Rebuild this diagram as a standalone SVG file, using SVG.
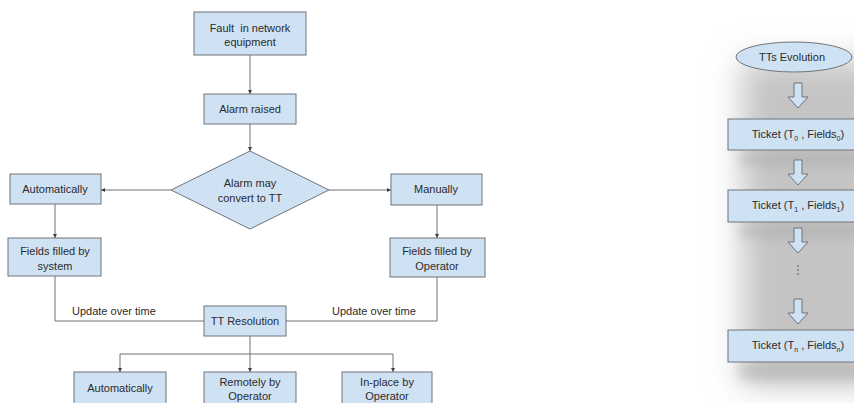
<svg xmlns="http://www.w3.org/2000/svg" width="854" height="403" viewBox="0 0 854 403">
  <style>
    .box { fill: #cfe2f3; stroke: #6f7478; stroke-width: 1; }
    .lbl { font-family: "Liberation Sans", Arial, sans-serif; font-size: 11px; fill: #2b2b2b; text-anchor: middle; }
    .note { font-family: "Liberation Sans", Arial, sans-serif; font-size: 11px; fill: #2b2b2b; }
    .wire { fill: none; stroke: #707070; stroke-width: 1; }
    .blk { fill: #cfe2f3; stroke: #6f7478; stroke-width: 1; }
  </style>
  <defs>
    <marker id="tip" viewBox="0 0 6 6" refX="6" refY="3" markerWidth="4" markerHeight="4" orient="auto">
      <path d="M0,0 L6,3 L0,6 z" fill="#404040"/>
    </marker>
    <filter id="soft" x="-40%" y="-30%" width="180%" height="160%">
      <feGaussianBlur stdDeviation="16"/>
    </filter>
    <filter id="soft2" x="-30%" y="-80%" width="160%" height="260%">
      <feGaussianBlur stdDeviation="6"/>
    </filter>
    <path id="down" d="M-4,0 H4 V14 H10 L0,25 L-10,14 H-4 Z"/>
  </defs>

  <rect width="854" height="403" fill="#ffffff"/>

  <!-- connectors -->
  <g id="connectors">
    <path class="wire" d="M250,55 V94" marker-end="url(#tip)"/>
    <path class="wire" d="M250,124 V151" marker-end="url(#tip)"/>
    <path class="wire" d="M171,190 H101" marker-end="url(#tip)"/>
    <path class="wire" d="M329,190 H391" marker-end="url(#tip)"/>
    <path class="wire" d="M55,204 V238" marker-end="url(#tip)"/>
    <path class="wire" d="M437,205 V238" marker-end="url(#tip)"/>
    <path class="wire" d="M55,276 V321 H204"/>
    <path class="wire" d="M437,277 V321 H286"/>
    <path class="wire" d="M250,336 V354"/>
    <path class="wire" d="M120,354 H393"/>
    <path class="wire" d="M120,354 V372" marker-end="url(#tip)"/>
    <path class="wire" d="M250,354 V372" marker-end="url(#tip)"/>
    <path class="wire" d="M393,354 V372" marker-end="url(#tip)"/>
    <text class="note" x="72" y="315">Update over time</text>
    <text class="note" x="332" y="315">Update over time</text>
  </g>

  <!-- flow nodes -->
  <g id="fault">
    <rect class="box" x="194" y="12" width="112" height="43"/>
    <text class="lbl" x="250" y="32">Fault&#160; in network</text>
    <text class="lbl" x="250" y="46">equipment</text>
  </g>
  <g id="alarm">
    <rect class="box" x="204" y="94" width="92" height="30"/>
    <text class="lbl" x="250" y="113">Alarm raised</text>
  </g>
  <g id="decision">
    <polygon class="box" points="250,151 329,190 250,229 171,190"/>
    <text class="lbl" x="250" y="187">Alarm may</text>
    <text class="lbl" x="250" y="202">convert to TT</text>
  </g>
  <g id="auto">
    <rect class="box" x="10" y="174" width="91" height="30"/>
    <text class="lbl" x="55" y="193">Automatically</text>
  </g>
  <g id="manual">
    <rect class="box" x="391" y="174" width="91" height="31"/>
    <text class="lbl" x="436" y="193">Manually</text>
  </g>
  <g id="fields-system">
    <rect class="box" x="8" y="238" width="93" height="38"/>
    <text class="lbl" x="55" y="255">Fields filled by</text>
    <text class="lbl" x="55" y="270">system</text>
  </g>
  <g id="fields-operator">
    <rect class="box" x="390" y="238" width="95" height="39"/>
    <text class="lbl" x="437" y="255">Fields filled by</text>
    <text class="lbl" x="437" y="270">Operator</text>
  </g>
  <g id="resolution">
    <rect class="box" x="204" y="306" width="82" height="30"/>
    <text class="lbl" x="245" y="325">TT Resolution</text>
  </g>
  <g id="res-auto">
    <rect class="box" x="74" y="372" width="92" height="40"/>
    <text class="lbl" x="120" y="392">Automatically</text>
  </g>
  <g id="res-remote">
    <rect class="box" x="204" y="372" width="92" height="40"/>
    <text class="lbl" x="250" y="386">Remotely by</text>
    <text class="lbl" x="250" y="400">Operator</text>
  </g>
  <g id="res-inplace">
    <rect class="box" x="342" y="372" width="90" height="40"/>
    <text class="lbl" x="387" y="386">In-place by</text>
    <text class="lbl" x="387" y="400">Operator</text>
  </g>

  <!-- evolution column: soft shadow backdrop -->
  <g id="evolution-shadow">
    <rect x="742" y="60" width="140" height="325" fill="#c4c4c4" filter="url(#soft)"/>
    <rect x="740" y="152" width="125" height="14" fill="#a8a8a8" opacity="0.5" filter="url(#soft2)"/>
    <rect x="740" y="224" width="125" height="14" fill="#a8a8a8" opacity="0.5" filter="url(#soft2)"/>
    <rect x="740" y="364" width="125" height="16" fill="#a8a8a8" opacity="0.5" filter="url(#soft2)"/>
  </g>

  <g id="evolution">
    <ellipse class="box" cx="794" cy="57" rx="58" ry="15"/>
    <text class="lbl" x="792" y="61">TTs Evolution</text>
  </g>
  <g id="arrow-1"><use href="#down" class="blk" x="798" y="83"/></g>
  <g id="ticket-0">
    <rect class="box" x="728" y="119" width="140" height="31"/>
    <text class="lbl" x="798" y="138">Ticket (T<tspan font-size="7" dy="3">0</tspan><tspan dy="-3"> , Fields</tspan><tspan font-size="7" dy="3">0</tspan><tspan dy="-3">)</tspan></text>
  </g>
  <g id="arrow-2"><use href="#down" class="blk" x="798" y="160"/></g>
  <g id="ticket-1">
    <rect class="box" x="728" y="190" width="140" height="32"/>
    <text class="lbl" x="798" y="209">Ticket (T<tspan font-size="7" dy="3">1</tspan><tspan dy="-3"> , Fields</tspan><tspan font-size="7" dy="3">1</tspan><tspan dy="-3">)</tspan></text>
  </g>
  <g id="arrow-3"><use href="#down" class="blk" x="798" y="228"/></g>
  <g id="ellipsis">
    <circle cx="798" cy="266" r="0.8" fill="#444"/>
    <circle cx="798" cy="270" r="0.8" fill="#444"/>
    <circle cx="798" cy="274" r="0.8" fill="#444"/>
  </g>
  <g id="arrow-4"><use href="#down" class="blk" x="798" y="299"/></g>
  <g id="ticket-n">
    <rect class="box" x="728" y="330" width="140" height="32"/>
    <text class="lbl" x="798" y="349">Ticket (T<tspan font-size="7" dy="3">n</tspan><tspan dy="-3"> , Fields</tspan><tspan font-size="7" dy="3">n</tspan><tspan dy="-3">)</tspan></text>
  </g>
</svg>
